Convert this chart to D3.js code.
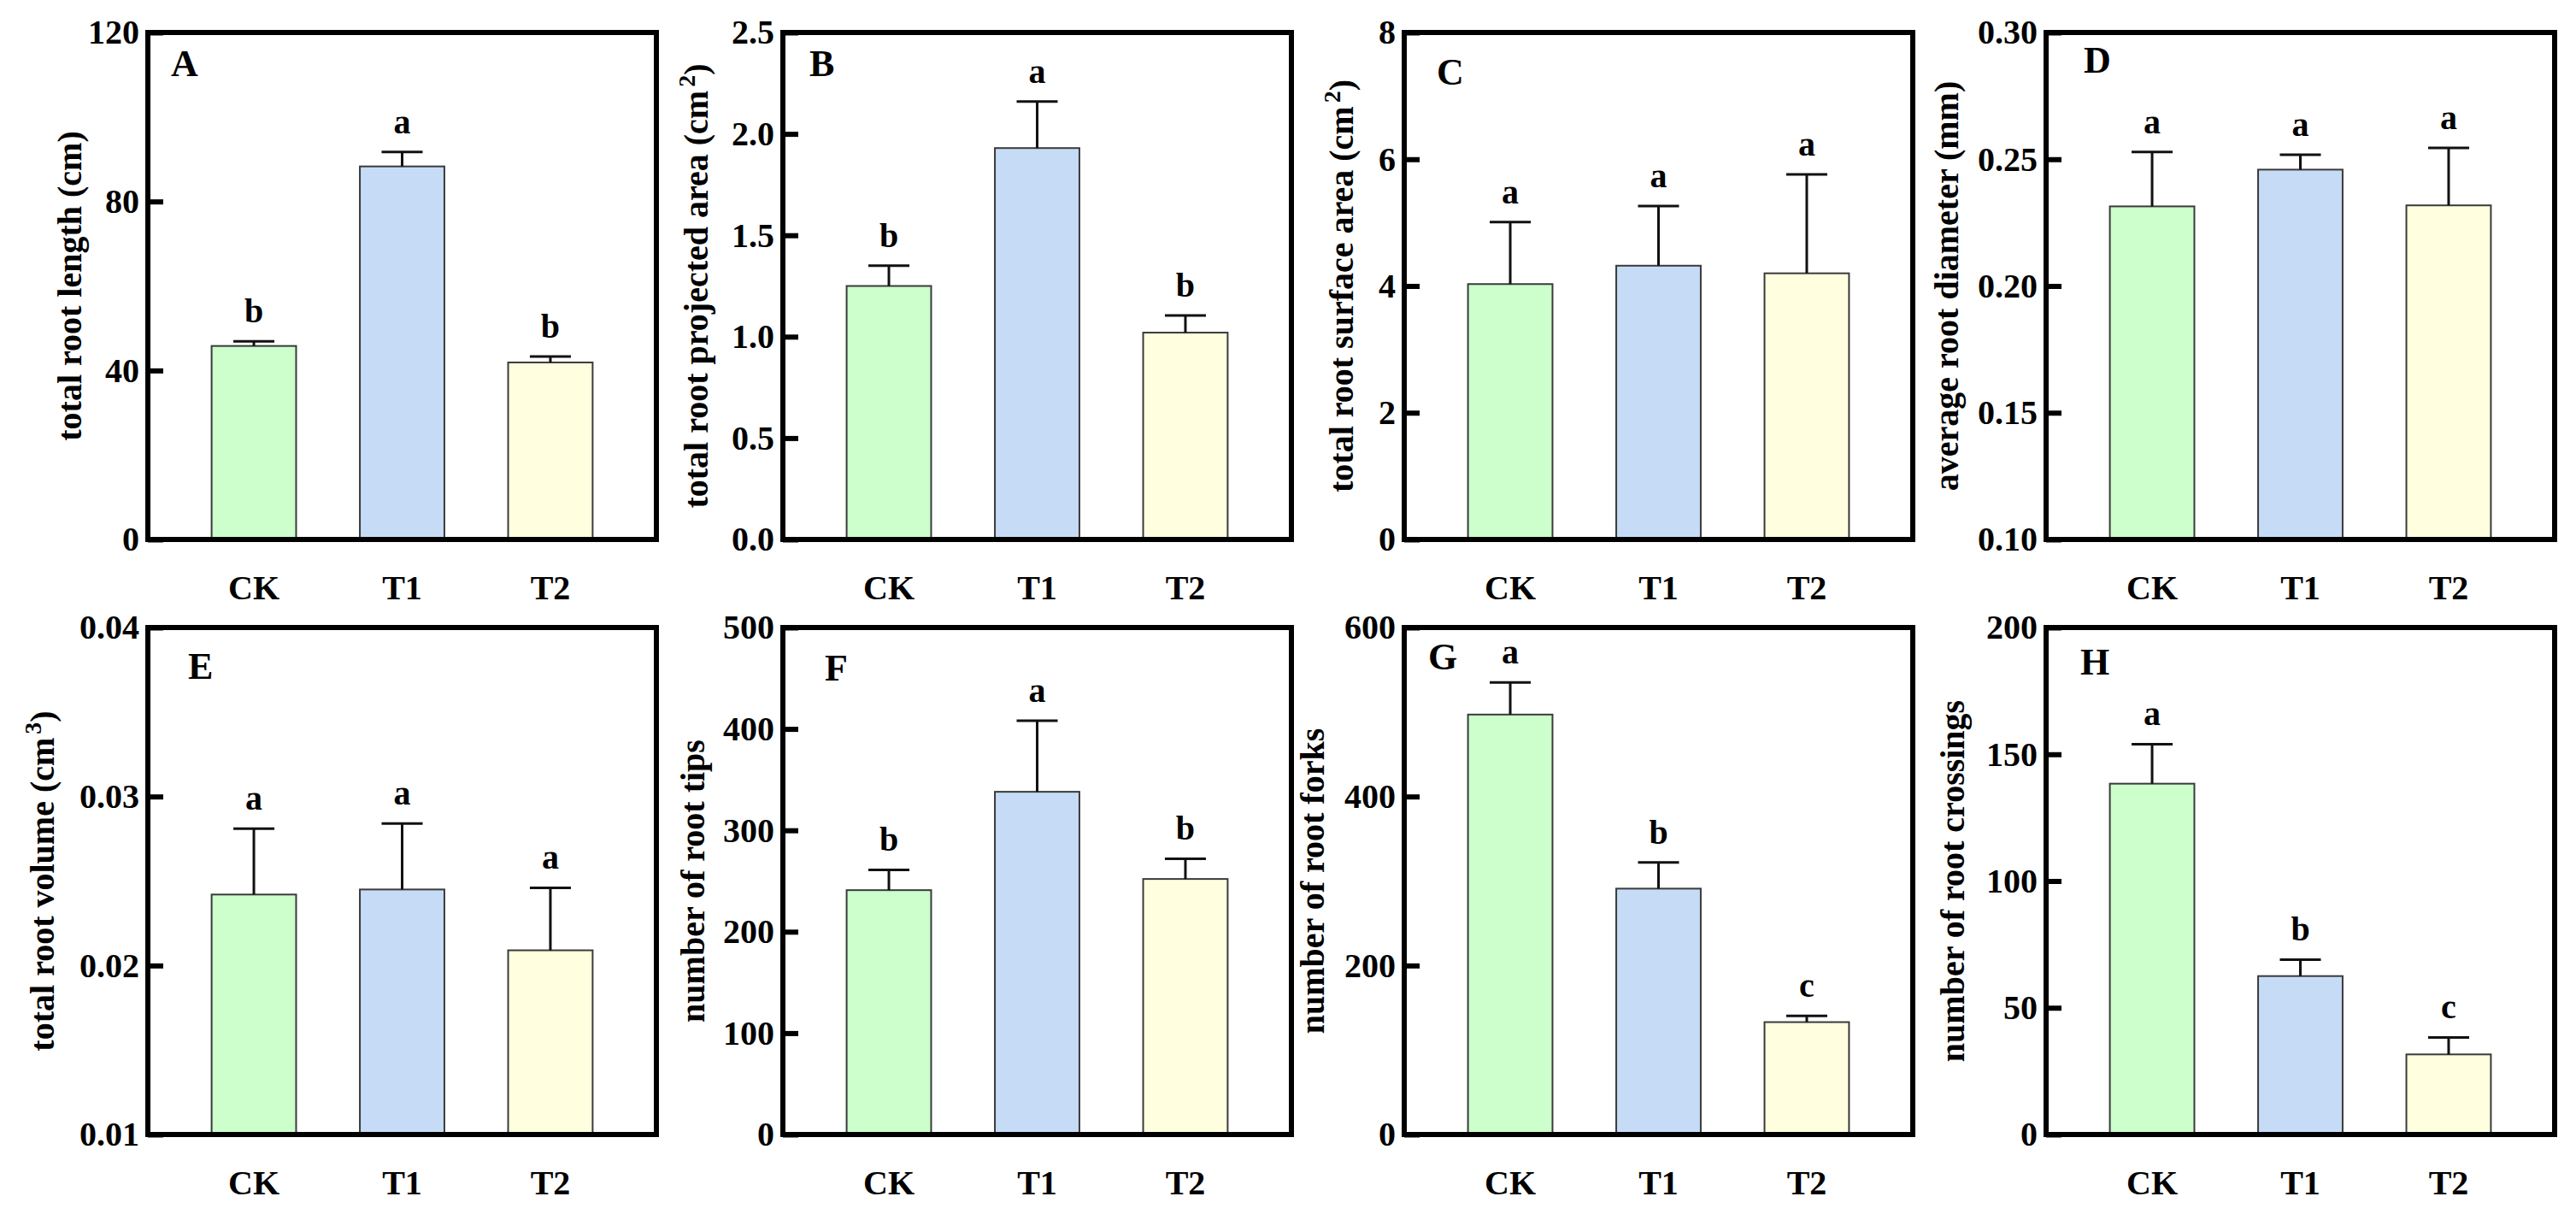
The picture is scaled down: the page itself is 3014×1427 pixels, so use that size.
<!DOCTYPE html>
<html>
<head>
<meta charset="utf-8">
<script src="https://cdn.jsdelivr.net/npm/d3@7"></script>
<style>
    body {margin: 0; background: #fff;}
    svg text {font-family: "Liberation Serif", "Times New Roman", serif; font-weight: bold; fill: #000;}
</style>
</head>
<body>
<svg id="fig" width="3014" height="1427"></svg>
<script>
// treatments and their bar fills
const groups = ['CK', 'T1', 'T2'];
const barColors = ['#ccffcc', '#c6dcf6', '#ffffe0'];

// one entry per panel, A..H
const panelIds = ['A', 'B', 'C', 'D', 'E', 'F', 'G', 'H'];
const yTitles = [
    ['total root length (cm)'],
    ['total root projected area (cm', '2', ')'],
    ['total root surface area (cm', '2', ')'],
    ['average root diameter (mm)'],
    ['total root volume (cm', '3', ')'],
    ['number of root tips'],
    ['number of root forks'],
    ['number of root crossings']
];
const yDomains = [[0, 120], [0, 2.5], [0, 8], [0.10, 0.30], [0.01, 0.04], [0, 500], [0, 600], [0, 200]];
const yTicks = [
    [0, 40, 80, 120],
    [0, 0.5, 1.0, 1.5, 2.0, 2.5],
    [0, 2, 4, 6, 8],
    [0.10, 0.15, 0.20, 0.25, 0.30],
    [0.01, 0.02, 0.03, 0.04],
    [0, 100, 200, 300, 400, 500],
    [0, 200, 400, 600],
    [0, 50, 100, 150, 200]
];
const tickFormats = ['d', '.1f', 'd', '.2f', '.2f', 'd', 'd', 'd'];

// means (CK, T1, T2) and standard errors
const means = [
    [45.8, 88.3, 41.9],
    [1.25, 1.93, 1.02],
    [4.03, 4.32, 4.20],
    [0.2314, 0.2459, 0.2318],
    [0.0242, 0.0245, 0.0209],
    [241, 338, 252],
    [497, 291, 133],
    [138.4, 62.5, 31.6]
];
const errs = [
    [1.1, 3.4, 1.4],
    [0.10, 0.23, 0.085],
    [0.98, 0.94, 1.56],
    [0.0215, 0.0059, 0.0227],
    [0.0039, 0.0039, 0.0037],
    [20, 70, 20],
    [38, 31, 7.5],
    [15.6, 6.5, 6.7]
];
const letters = [
    ['b', 'a', 'b'],
    ['b', 'a', 'b'],
    ['a', 'a', 'a'],
    ['a', 'a', 'a'],
    ['a', 'a', 'a'],
    ['b', 'a', 'b'],
    ['a', 'b', 'c'],
    ['a', 'b', 'c']
];

let graphicopt = {
    colX: [173, 916, 1643, 2394],
    rowY: [38, 734],
    width: 595,
    height: 593,
    frameWidth: 6,
    tickLen: 18,
    capHalf: 24,
    fontSize: 40,
    letterSize: 44
};
// per panel: y-title distance left of frame, panel letter offset
const panelLayout = [
    {title: 87, lx: 27, ly: 51},
    {title: 97, lx: 31, ly: 51},
    {title: 69, lx: 38, ly: 61},
    {title: 112, lx: 44, ly: 47},
    {title: 119, lx: 47, ly: 60},
    {title: 101, lx: 49, ly: 62},
    {title: 103, lx: 28, ly: 49},
    {title: 105, lx: 40, ly: 55}
];

const svg = d3.select('#fig');

function drawPanel(i) {
    const W = graphicopt.width, H = graphicopt.height;
    const lay = panelLayout[i];
    const g = svg.append('g')
        .attr('class', 'panel')
        .attr('transform', 'translate(' + graphicopt.colX[i % 4] + ',' + graphicopt.rowY[Math.floor(i / 4)] + ')');

    const x = d3.scaleBand().domain(groups).range([0, W]).padding(0.43);
    const y = d3.scaleLinear().domain(yDomains[i]).range([H, 0]);

    const rows = groups.map((c, j) => ({
        cat: c, mean: means[i][j], err: errs[i][j], sig: letters[i][j], color: barColors[j]
    }));

    g.selectAll('rect.bar').data(rows).join('rect')
        .attr('class', 'bar')
        .attr('x', d => x(d.cat))
        .attr('width', x.bandwidth())
        .attr('y', d => y(d.mean))
        .attr('height', d => H - y(d.mean))
        .attr('fill', d => d.color)
        .attr('stroke', '#3a3a3a')
        .attr('stroke-width', 2);

    const eb = g.selectAll('g.err').data(rows).join('g')
        .attr('class', 'err')
        .attr('transform', d => 'translate(' + (x(d.cat) + x.bandwidth() / 2) + ',0)');
    eb.append('line')
        .attr('y1', d => y(d.mean)).attr('y2', d => y(d.mean + d.err))
        .attr('stroke', '#111').attr('stroke-width', 3);
    eb.append('line')
        .attr('x1', -graphicopt.capHalf).attr('x2', graphicopt.capHalf)
        .attr('y1', d => y(d.mean + d.err)).attr('y2', d => y(d.mean + d.err))
        .attr('stroke', '#111').attr('stroke-width', 3);
    eb.append('text')
        .attr('text-anchor', 'middle')
        .attr('y', d => y(d.mean + d.err) - 22)
        .style('font-size', graphicopt.fontSize + 'px')
        .text(d => d.sig);

    // y axis: inward ticks, labels outside the frame
    const ya = g.append('g').attr('class', 'yaxis')
        .call(d3.axisLeft(y).tickValues(yTicks[i]).tickFormat(d3.format(tickFormats[i]))
            .tickSizeInner(-graphicopt.tickLen).tickSizeOuter(0).tickPadding(10));
    ya.select('.domain').remove();
    ya.selectAll('line').attr('stroke', '#000').attr('stroke-width', graphicopt.frameWidth);
    ya.selectAll('text').style('font-size', graphicopt.fontSize + 'px');

    const xa = g.append('g').attr('class', 'xaxis')
        .attr('transform', 'translate(0,' + H + ')')
        .call(d3.axisBottom(x).tickSize(0).tickPadding(42));
    xa.select('.domain').remove();
    xa.selectAll('text').style('font-size', graphicopt.fontSize + 'px');

    g.append('rect')
        .attr('width', W).attr('height', H)
        .attr('fill', 'none')
        .attr('stroke', '#000')
        .attr('stroke-width', graphicopt.frameWidth);

    // rotated y title, superscript for units where needed
    const t = g.append('text')
        .attr('transform', 'translate(' + (-lay.title) + ',' + (H / 2) + ') rotate(-90)')
        .attr('text-anchor', 'middle')
        .attr('dy', '0.23em')
        .style('font-size', graphicopt.fontSize + 'px');
    const parts = yTitles[i];
    t.append('tspan').text(parts[0]);
    if (parts.length > 1) {
        t.append('tspan').attr('dx', 4).attr('dy', -15).style('font-size', '28px').text(parts[1]);
        t.append('tspan').attr('dy', 15).text(parts[2]);
    }

    g.append('text')
        .attr('x', lay.lx).attr('y', lay.ly)
        .style('font-size', graphicopt.letterSize + 'px')
        .text(panelIds[i]);
}

panelIds.forEach((d, i) => drawPanel(i));
</script>
</body>
</html>
